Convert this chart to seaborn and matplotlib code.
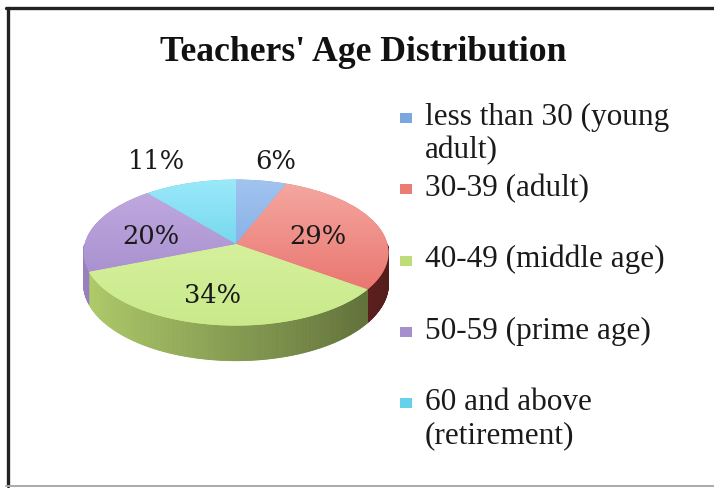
import numpy as np
import matplotlib
matplotlib.use("Agg")
import matplotlib.pyplot as plt
import seaborn as sns
from matplotlib.colors import LinearSegmentedColormap, to_rgb
from matplotlib.patches import Rectangle
from matplotlib.lines import Line2D
from matplotlib.transforms import Transform

sns.set_theme(style="white")

# ---- data ----
title = "Teachers' Age Distribution"
categories = ["less than 30 (young\nadult)", "30-39 (adult)", "40-49 (middle age)",
              "50-59 (prime age)", "60 and above\n(retirement)"]
values = [6, 29, 34, 20, 11]
pct_labels = ["6%", "29%", "34%", "20%", "11%"]

# colours
top_hi = ["#a2c4f0", "#f5aaa3", "#e0f6aa", "#c4aee2", "#9ceafa"]
top_lo = ["#6c9cda", "#e5655e", "#c8e98a", "#9a80c6", "#48c2de"]
side_base = ["#6f9fdc", "#a83a35", "#b2cf6c", "#9a82c0", "#4cc4df"]
legend_cols = ["#7aa7e0", "#ec7b74", "#bedc78", "#a690cc", "#64d2ea"]
label_dist = [1.35, 0.56, 0.68, 0.58, 1.45]
label_shift = [-2, -5, -5, 4, 5]  # degrees

W, H = 714, 488
fig = plt.figure(figsize=(W / 100, H / 100), dpi=100)
fig.patch.set_facecolor("white")


class Persp(Transform):
    """Tilted-disc perspective projection: unit pie coords -> pixel coords."""
    input_dims = output_dims = 2

    def __init__(self, cx, cy, A, k, c):
        super().__init__()
        self.cx, self.cy, self.A, self.k, self.c = cx, cy, A, k, c

    def transform_non_affine(self, v):
        v = np.asarray(v, dtype=float)
        x, y = v[:, 0], v[:, 1]
        s = 1.0 / (1.0 + self.c * y)
        return np.column_stack([self.cx + self.A * x * s, self.cy - self.k * y * s])


P = Persp(236.0, 244.0, 151.4, 72.0, 0.1174)
depth = 31.0

ax = fig.add_axes([0, 0, 1, 1])
wedges, _ = ax.pie(values, colors=top_lo, startangle=90, counterclock=False,
                   radius=1, wedgeprops=dict(edgecolor="none", linewidth=0))
for w in wedges:
    w.set_transform(P + ax.transData)
    w.set_zorder(2)

# side walls (front half), shaded by angle
fr = np.array(values, dtype=float) / np.sum(values)
cum = np.concatenate([[0], np.cumsum(fr)])
for i in range(len(values)):
    a_start = 90 - cum[i] * 360
    a_end = 90 - cum[i + 1] * 360
    lo, hi = min(a_start, a_end), max(a_start, a_end)
    base = np.array(to_rgb(side_base[i]))
    for off in (0, -360, 360):
        l2, h2 = max(lo + off, -180), min(hi + off, 0)
        if h2 <= l2:
            continue
        angs = np.linspace(l2, h2, max(2, int((h2 - l2) / 0.5) + 1))
        for a0, a1 in zip(angs[:-1], angs[1:]):
            t = np.radians([a0, a1])
            pts = P.transform_non_affine(np.column_stack([np.cos(t), np.sin(t)]))
            s = 1.0 / (1.0 + P.c * np.sin(t))
            xm = np.cos(np.radians((a0 + a1) / 2))
            f = 1.0 - 0.5 * (xm + 1) / 2
            col = np.clip(base * f, 0, 1)
            xs = [pts[0, 0], pts[1, 0], pts[1, 0], pts[0, 0]]
            ys = [pts[0, 1], pts[1, 1], pts[1, 1] + depth * s[1], pts[0, 1] + depth * s[0]]
            ax.fill(xs, ys, color=col, linewidth=0.6, edgecolor=col, zorder=1)

# gradient on top faces
grad = np.linspace(1, 0, 256).reshape(-1, 1)
for i, w in enumerate(wedges):
    cmap = LinearSegmentedColormap.from_list(f"g{i}", [top_lo[i], top_hi[i]])
    im = ax.imshow(grad, extent=(78, 394, 330, 176), cmap=cmap, aspect="auto",
                   origin="upper", zorder=3, interpolation="bilinear")
    im.set_clip_path(w)

ax.set_xlim(0, W)
ax.set_ylim(H, 0)
ax.set_aspect("auto")
ax.axis("off")

# percent labels
for i, lab in enumerate(pct_labels):
    mid = np.radians(90 - (cum[i] + cum[i + 1]) / 2 * 360 + label_shift[i])
    r = label_dist[i]
    px, py = P.transform_non_affine(np.array([[r * np.cos(mid), r * np.sin(mid)]]))[0]
    ax.text(px, py, lab, ha="center", va="center",
            fontsize=18.5, family="DejaVu Serif", color="#1a1a1a", zorder=5)

# title
fig.text(363 / W, 1 - 61 / H, title, ha="center", va="baseline",
         fontsize=25.7, fontweight="bold", family="Liberation Serif", color="#111111")

# legend (manual)
base0, step, lsp = 125.0, 71.25, 33.0
for i, lab in enumerate(categories):
    b = base0 + i * step
    fig.patches.append(Rectangle((400 / W, 1 - (b - 2) / H), 12 / W, 10 / H,
                                 transform=fig.transFigure, facecolor=legend_cols[i],
                                 edgecolor="none"))
    for k, line in enumerate(lab.split("\n")):
        fig.text(425 / W, 1 - (b + k * lsp) / H, line, ha="left", va="baseline",
                 fontsize=22.5, family="Liberation Serif", color="#1a1a1a")

# frame
fig.add_artist(Line2D([7.5 / W, 7.5 / W], [1 - 486 / H, 1 - 7.5 / H], transform=fig.transFigure,
                      color="#222222", linewidth=2.4))
fig.add_artist(Line2D([6 / W, 1], [1 - 7.5 / H, 1 - 7.5 / H], transform=fig.transFigure,
                      color="#222222", linewidth=2.4))
fig.add_artist(Line2D([6 / W, 1], [1 - 486 / H, 1 - 486 / H], transform=fig.transFigure,
                      color="#aaaaaa", linewidth=1.4))

fig.savefig("out.png", dpi=100, facecolor="white")
